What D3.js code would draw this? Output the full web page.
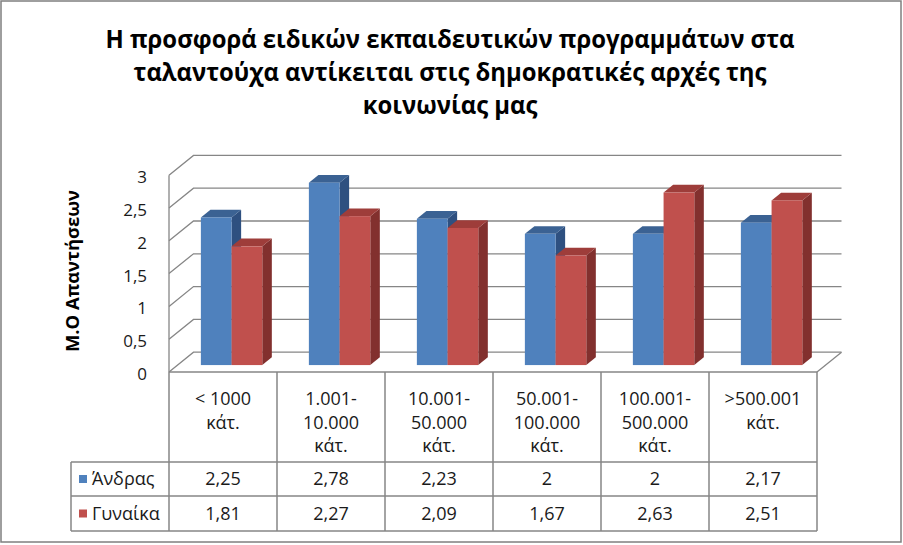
<!DOCTYPE html>
<html>
<head>
<meta charset="utf-8">
<script src="https://cdn.jsdelivr.net/npm/d3@7"></script>
<style>
  html, body { margin: 0; padding: 0; background: #ffffff; }
  svg { display: block; }
  text { font-family: "Open Sans", "Noto Sans", "DejaVu Sans", sans-serif; fill: #000; }
</style>
</head>
<body>
<svg id="chart" width="903" height="545"></svg>
<script>
// ---------------- data ----------------
const titleLines = [
  "Η προσφορά ειδικών εκπαιδευτικών προγραμμάτων στα",
  "ταλαντούχα αντίκειται στις δημοκρατικές αρχές της",
  "κοινωνίας μας"
];
const yAxisTitle = "Μ.Ο Απαντήσεων";
const categories = [
  "< 1000\nκάτ.",
  "1.001-\n10.000\nκάτ.",
  "10.001-\n50.000\nκάτ.",
  "50.001-\n100.000\nκάτ.",
  "100.001-\n500.000\nκάτ.",
  ">500.001\nκάτ."
];
const seriesNames = ["Άνδρας", "Γυναίκα"];
const men   = [2.25, 2.78, 2.23, 2, 2, 2.17];
const women = [1.81, 2.27, 2.09, 1.67, 2.63, 2.51];
const yTicks = [0, 0.5, 1, 1.5, 2, 2.5, 3];

const seriesValues = [men, women];
const colors = [
  { front: "#4F81BD", top: "#3B6293", side: "#2E5080" },
  { front: "#C0504D", top: "#9E3D3A", side: "#82302E" }
];

// ---------------- layout ----------------
const svg = d3.select("#chart");
const gridColor = "#868686";
const fmt = d3.formatLocale({ decimal: ",", thousands: ".", grouping: [3], currency: ["", "€"] }).format("~g");

const xLeft = 169, xRight = 817;          // front plane
const yZero = 372, yTop = 175.2;          // front plane value 0 / 3
const DX = 24.5, DY = 19.8;               // depth offset
const d0 = 0.35, d1 = 0.74;               // bar depth range

const x = d3.scaleBand().domain(d3.range(categories.length)).range([xLeft, xRight]).padding(0);
const y = d3.scaleLinear().domain([0, 3]).range([yZero, yTop]);
const P = (xf, v, d) => [xf + d * DX, y(v) - d * DY];

// outer border
svg.append("rect").attr("x", 1).attr("y", 1).attr("width", 900).attr("height", 541)
  .attr("fill", "#fff").attr("stroke", "#7f7f7f").attr("stroke-width", 1.5);

// ---------------- title ----------------
const titleG = svg.append("g");
const tl = titleG.selectAll("text").data(titleLines).join("text")
  .attr("x", 450).attr("y", (d, i) => 48 + i * 33)
  .attr("text-anchor", "middle")
  .style("font-size", "25px").style("font-weight", "bold")
  .text(d => d);
const natural0 = tl.nodes()[0].getComputedTextLength();
const ratio = 689 / natural0;
tl.each(function () {
  const w = this.getComputedTextLength();
  d3.select(this).attr("textLength", w * ratio).attr("lengthAdjust", "spacingAndGlyphs");
});

// ---------------- walls & grid ----------------
const grid = svg.append("g").attr("stroke", gridColor).attr("stroke-width", 1.3).attr("fill", "none");
yTicks.forEach(v => {
  const a = P(xLeft, v, 0), b = P(xLeft, v, 1), c = P(xRight, v, 1);
  grid.append("path").attr("d", d3.line()([a, b, c]));
});
// front-left vertical edge of the side wall (continues into the table)
grid.append("line").attr("x1", xLeft).attr("x2", xLeft).attr("y1", y(3)).attr("y2", yZero);
// floor right edge
grid.append("path").attr("d", d3.line()([P(xRight, 0, 0), P(xRight, 0, 1)]));

// ---------------- y tick labels ----------------
svg.append("g").selectAll("text").data(yTicks).join("text")
  .attr("x", 147).attr("y", d => y(d) + 2)
  .attr("dy", "0.35em").attr("text-anchor", "end")
  .style("font-size", "17px").style("fill", "#1a1a1a")
  .text(d => fmt(d));

// y axis title
const yt = svg.append("text")
  .attr("transform", "translate(79,271) rotate(-90)")
  .attr("text-anchor", "middle")
  .style("font-size", "18px").style("font-weight", "bold")
  .text(yAxisTitle);
yt.attr("textLength", 162).attr("lengthAdjust", "spacingAndGlyphs");

// ---------------- bars ----------------
const groupW = 61.4;
const xs = d3.scaleBand().domain(d3.range(seriesNames.length)).range([0, groupW]).padding(0);
const barsG = svg.append("g");
categories.forEach((c, i) => {
  const cx = x(i) + x.bandwidth() / 2 - groupW / 2;
  seriesValues.forEach((vals, s) => {
    const v = vals[i];
    const x0 = cx + xs(s), x1 = x0 + xs.bandwidth();
    const g = barsG.append("g");
    const fTL = P(x0, v, d0), fBR = P(x1, 0, d0);
    g.append("path").attr("fill", colors[s].side)
      .attr("d", d3.line()([P(x1, v, d0), P(x1, v, d1), P(x1, 0, d1), P(x1, 0, d0)]) + "Z");
    g.append("path").attr("fill", colors[s].top)
      .attr("d", d3.line()([P(x0, v, d0), P(x1, v, d0), P(x1, v, d1), P(x0, v, d1)]) + "Z");
    g.append("rect").attr("fill", colors[s].front)
      .attr("x", fTL[0]).attr("y", fTL[1])
      .attr("width", fBR[0] - fTL[0]).attr("height", fBR[1] - fTL[1]);
  });
});

// ---------------- data table ----------------
const rowTop = 372, rowH1 = 462, rowH2 = 496, rowH3 = 531, legLeft = 71;
const tbl = svg.append("g").attr("stroke", gridColor).attr("stroke-width", 1.5).attr("fill", "none");
tbl.append("line").attr("x1", xLeft).attr("x2", xRight).attr("y1", rowTop).attr("y2", rowTop);
[rowH1, rowH2, rowH3].forEach(yy =>
  tbl.append("line").attr("x1", legLeft).attr("x2", xRight).attr("y1", yy).attr("y2", yy));
tbl.append("line").attr("x1", legLeft).attr("x2", legLeft).attr("y1", rowH1).attr("y2", rowH3);
d3.range(categories.length + 1).forEach(i => {
  const xx = i < categories.length ? x(i) : xRight;
  tbl.append("line").attr("x1", xx).attr("x2", xx).attr("y1", rowTop).attr("y2", rowH3);
});

// category labels
const catG = svg.append("g");
categories.forEach((c, i) => {
  const t = catG.append("text")
    .attr("x", x(i) + x.bandwidth() / 2).attr("y", 399)
    .attr("text-anchor", "middle").style("font-size", "18px").style("fill", "#1a1a1a");
  c.split("\n").forEach((line, k) => {
    t.append("tspan").attr("x", x(i) + x.bandwidth() / 2)
      .attr("y", 399 + k * 23.5).attr("dy", "0.35em").text(line);
  });
});

// legend + values rows
const rowCenters = [(rowH1 + rowH2) / 2, (rowH2 + rowH3) / 2];
seriesNames.forEach((name, s) => {
  const cy = rowCenters[s];
  svg.append("rect").attr("x", 79).attr("y", cy - 4).attr("width", 8).attr("height", 8)
    .attr("fill", colors[s].front);
  svg.append("text").attr("x", 92).attr("y", cy).attr("dy", "0.35em")
    .style("font-size", "18px").style("fill", "#1a1a1a").text(name);
  svg.append("g").selectAll("text").data(seriesValues[s]).join("text")
    .attr("x", (d, i) => x(i) + x.bandwidth() / 2).attr("y", cy).attr("dy", "0.35em")
    .attr("text-anchor", "middle").style("font-size", "18px").style("fill", "#1a1a1a")
    .text(d => fmt(d));
});
</script>
</body>
</html>
